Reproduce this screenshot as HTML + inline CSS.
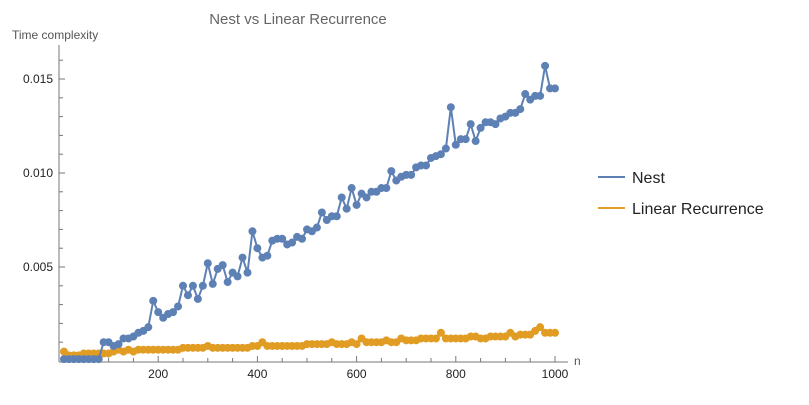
<!DOCTYPE html>
<html><head><meta charset="utf-8"><style>
body{margin:0;background:#fff;width:809px;height:400px;overflow:hidden}
svg{font-family:"Liberation Sans",sans-serif}
</style></head><body>
<svg id="chart" width="809" height="400" xmlns="http://www.w3.org/2000/svg">
<text x="298" y="24" text-anchor="middle" font-size="15" fill="#666">Nest vs Linear Recurrence</text>
<text x="12" y="39" font-size="12" fill="#555">Time complexity</text>
<text x="574" y="365" font-size="12" fill="#555">n</text>
<g id="axes"></g><g id="series"></g>
<g>
<g><line x1="598" y1="177" x2="625" y2="177" stroke="#5e81b5" stroke-width="2"/><text x="632" y="183" font-size="16" fill="#222">Nest</text></g>
<g><line x1="598" y1="208" x2="625" y2="208" stroke="#e19c24" stroke-width="2"/><text x="632" y="214" font-size="16" fill="#222">Linear Recurrence</text></g>
</g>
</svg>
<script>
const nValues=[10,20,30,40,50,60,70,80,90,100,110,120,130,140,150,160,170,180,190,200,210,220,230,240,250,260,270,280,290,300,310,320,330,340,350,360,370,380,390,400,410,420,430,440,450,460,470,480,490,500,510,520,530,540,550,560,570,580,590,600,610,620,630,640,650,660,670,680,690,700,710,720,730,740,750,760,770,780,790,800,810,820,830,840,850,860,870,880,890,900,910,920,930,940,950,960,970,980,990,1000];
const nestValues=[0.0001,0.0001,0.0001,0.0001,0.0001,0.0001,0.0001,0.0001,0.001,0.001,0.0008,0.0009,0.0012,0.0012,0.0013,0.0015,0.0016,0.0018,0.0032,0.0026,0.0023,0.0025,0.0026,0.0029,0.004,0.0035,0.004,0.0033,0.004,0.0052,0.0041,0.0049,0.0051,0.0042,0.0047,0.0045,0.0055,0.0047,0.0069,0.006,0.0055,0.0056,0.0064,0.0065,0.0065,0.0062,0.0063,0.0066,0.0065,0.007,0.0069,0.0071,0.0079,0.0075,0.0077,0.0077,0.0087,0.0081,0.0092,0.0083,0.0089,0.0087,0.009,0.009,0.0092,0.0092,0.0101,0.0096,0.0098,0.0099,0.0099,0.0103,0.0104,0.0104,0.0108,0.0109,0.011,0.0113,0.0135,0.0115,0.0118,0.0118,0.0126,0.0117,0.0124,0.0127,0.0127,0.0126,0.0129,0.013,0.0132,0.0132,0.0134,0.0142,0.0139,0.0141,0.0141,0.0157,0.0145,0.0145];
const linearValues=[0.0005,0.0003,0.0003,0.0003,0.0004,0.0004,0.0004,0.0004,0.0004,0.0004,0.0005,0.0006,0.0005,0.0006,0.0005,0.0006,0.0006,0.0006,0.0006,0.0006,0.0006,0.0006,0.0006,0.0006,0.0007,0.0007,0.0007,0.0007,0.0007,0.0008,0.0007,0.0007,0.0007,0.0007,0.0007,0.0007,0.0007,0.0007,0.0008,0.0008,0.001,0.0008,0.0008,0.0008,0.0008,0.0008,0.0008,0.0008,0.0008,0.0009,0.0009,0.0009,0.0009,0.0009,0.001,0.0009,0.0009,0.0009,0.001,0.0009,0.0012,0.001,0.001,0.001,0.001,0.0011,0.001,0.001,0.0012,0.0011,0.0011,0.0011,0.0012,0.0012,0.0012,0.0012,0.0015,0.0012,0.0012,0.0012,0.0012,0.0012,0.0013,0.0013,0.0012,0.0012,0.0013,0.0013,0.0013,0.0013,0.0015,0.0013,0.0014,0.0014,0.0014,0.0016,0.0018,0.0015,0.0015,0.0015];
const xTicks=[200,400,600,800,1000];
const yTicks=[0.005,0.010,0.015];
const yTickLabels=["0.005","0.010","0.015"];
const NS="http://www.w3.org/2000/svg";
const X0=59,X1=555,Y0=361,Y1=79;
const sx=v=>X0+(v/1000)*(X1-X0);
const sy=v=>Y0-(v/0.015)*(Y0-Y1);
function mk(t,a,p){const e=document.createElementNS(NS,t);for(const k in a)e.setAttribute(k,a[k]);p.appendChild(e);return e;}
const axes=document.getElementById('axes');
const xa=mk('line',{x1:X0,y1:Y0+1,x2:568,y2:Y0+1,stroke:'#777'},axes);


const ya=mk('line',{x1:X0,y1:45,x2:X0,y2:Y0+1,stroke:'#777'},axes);


for(let v=50;v<=1000;v+=50){const big=v%200===0;mk('line',{x1:sx(v),y1:Y0+1,x2:sx(v),y2:Y0+1-(big?6:4),stroke:'#777'},axes);}
for(let v=0.001;v<=0.0161;v+=0.001){const big=Math.abs(v*200-Math.round(v*200))<1e-6;mk('line',{x1:X0,y1:sy(v),x2:X0+(big?6:4),y2:sy(v),stroke:'#777'},axes);}
xTicks.forEach(v=>{const t=mk('text',{x:sx(v),y:378,'text-anchor':'middle','font-size':12,fill:'#222'},axes);t.textContent=v;

});
yTicks.forEach((v,i)=>{const t=mk('text',{x:X0-6,y:sy(v)+4,'text-anchor':'end','font-size':12,fill:'#222'},axes);t.textContent=yTickLabels[i];

});
const ser=document.getElementById('series');
function draw(vals,color,name){
const g=mk('g',{},ser);


mk('polyline',{points:vals.map((v,i)=>sx(nValues[i])+','+sy(v)).join(' '),fill:'none',stroke:color,'stroke-width':2},g);
vals.forEach((v,i)=>{const c=mk('circle',{cx:sx(nValues[i]),cy:sy(v),r:4,fill:color},g);

});
}
draw(linearValues,'#e19c24','linear');
draw(nestValues,'#5e81b5','nest');
</script>
</body></html>
